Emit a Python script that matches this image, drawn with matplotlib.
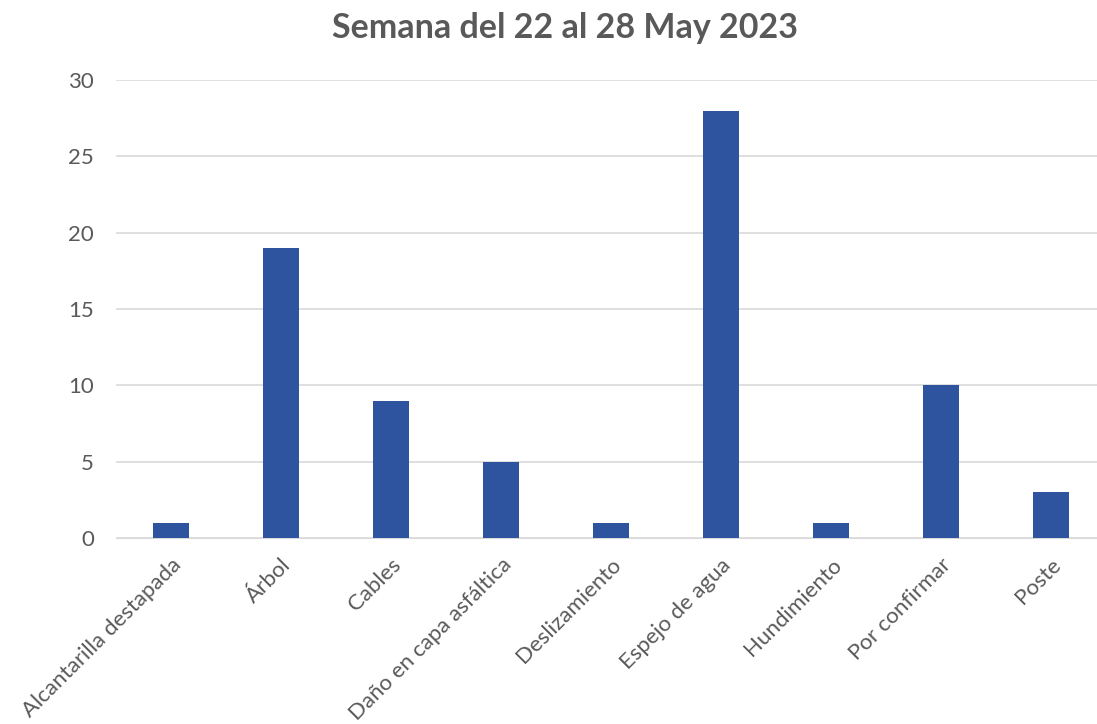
import matplotlib
matplotlib.use("Agg")
import matplotlib.pyplot as plt

categories = ["Alcantarilla destapada", "Árbol", "Cables", "Daño en capa asfáltica",
              "Deslizamiento", "Espejo de agua", "Hundimiento", "Por confirmar", "Poste"]
values = [1, 19, 9, 5, 1, 28, 1, 10, 3]
yticks = [0, 5, 10, 15, 20, 25, 30]
title = "Semana del 22 al 28 May 2023"

plt.rcParams['font.family'] = ['Lato', 'DejaVu Sans']

fig = plt.figure(figsize=(10.97, 7.24), dpi=100)
ax = fig.add_axes([116/1097, 1-538/724, 990/1097, (538-80)/724])
x = list(range(len(categories)))
ax.bar(x, values, width=0.33, color="#2E54A0", zorder=3)
ax.set_xlim(-0.5, 8.5)
ax.set_ylim(0, 30)
ax.set_yticks(yticks)
ax.set_yticklabels([str(v) for v in yticks], fontsize=16, color="#595959")
ax.set_xticks(x)
ax.set_xticklabels(categories, rotation=45, ha="right", rotation_mode="anchor",
                   fontsize=16, color="#595959")
ax.tick_params(axis="y", length=0, pad=16)
ax.tick_params(axis="x", length=0, pad=12)
ax.grid(axis="y", color="#D9D9D9", linewidth=1.2, zorder=0)
for s in ax.spines.values():
    s.set_visible(False)
ax.spines['bottom'].set_visible(True)
ax.spines['bottom'].set_color("#D9D9D9")
fig.text(0.515, 1-28/724, title, ha="center", va="center", fontsize=24.5,
         fontweight="bold", color="#595959")
fig.savefig("out.png", dpi=100, facecolor="white")
